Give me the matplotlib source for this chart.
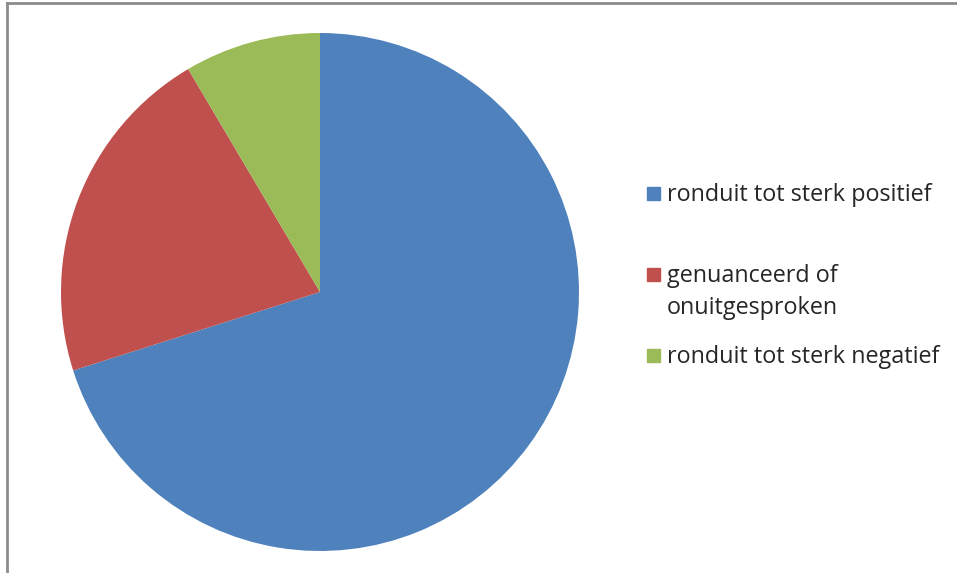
import matplotlib
matplotlib.use('Agg')
import matplotlib.pyplot as plt
from matplotlib.patches import Rectangle
from matplotlib.lines import Line2D

labels = ['ronduit tot sterk positief', 'genuanceerd of\nonuitgesproken', 'ronduit tot sterk negatief']
values = [70.1, 21.4, 8.5]
colors = ['#4F81BD', '#C0504D', '#9BBB59']

W, H = 957, 573
fig = plt.figure(figsize=(W / 100, H / 100), dpi=100)

# pie: centre (320, 292) px, radius 259 px
cx, cy, r = 320, 292, 259
ax = fig.add_axes([(cx - r) / W, (H - cy - r) / H, 2 * r / W, 2 * r / H])
ax.pie(values, colors=colors, startangle=90, counterclock=False, radius=1,
       wedgeprops=dict(linewidth=0))
ax.set_xlim(-1, 1)
ax.set_ylim(-1, 1)
ax.set_aspect('equal')
ax.axis('off')

# legend drawn by hand, marker next to the first line of each entry
marker_y = [193, 274, 355]
for lab, col, y in zip(labels, colors, marker_y):
    fig.patches.append(Rectangle((647 / W, (H - y - 6.5) / H), 13 / W, 13 / H,
                                 transform=fig.transFigure, color=col))
    fig.text(667 / W, (H - y + 10) / H, lab, ha='left', va='top',
             fontsize=16.8, family='Open Sans', color='#262626', linespacing=1.45)

# frame on top and left edge
fig.add_artist(Line2D([7 / W, 1], [1 - 3 / H, 1 - 3 / H], transform=fig.transFigure,
                      color='#8c8c8c', linewidth=2))
fig.add_artist(Line2D([7 / W, 7 / W], [0, 1 - 3 / H], transform=fig.transFigure,
                      color='#8c8c8c', linewidth=2))

fig.savefig('out.png', dpi=100)
